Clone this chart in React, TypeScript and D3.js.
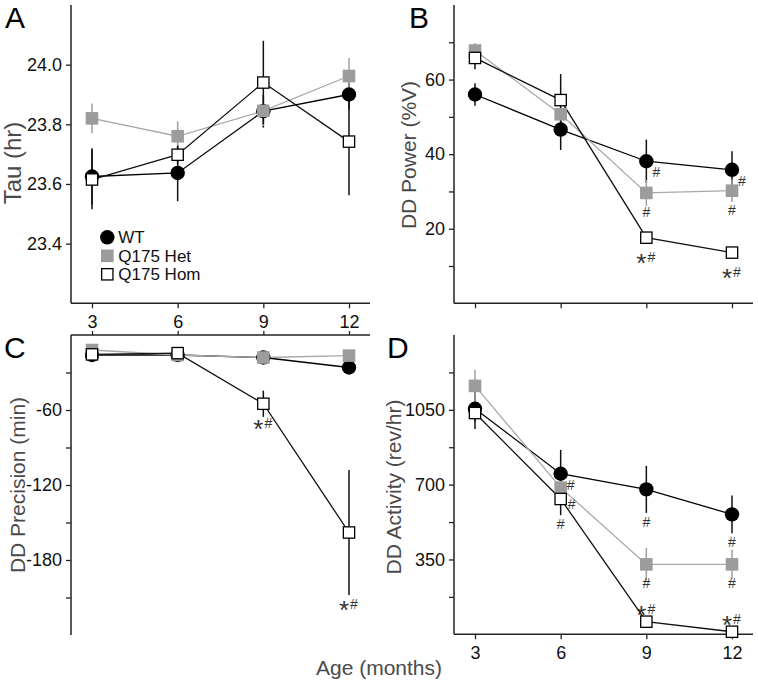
import React, { useEffect, useRef } from 'react';
import * as d3 from 'd3';

// ---------- data ----------
const months = [3, 6, 9, 12];
const groupNames = ['WT', 'Q175 Het', 'Q175 Hom'];

// Panel A: Tau (hr)
const tauWT = [23.625, 23.637, 23.844, 23.9];
const tauWTErr = [0.095, 0.095, 0.055, 0.05];
const tauHet = [23.82, 23.76, 23.845, 23.962];
const tauHetErr = [0.05, 0.05, 0.05, 0.06];
const tauHom = [23.615, 23.698, 23.94, 23.742];
const tauHomErr = [0.1, 0.03, 0.14, 0.18];
const tauDomain = [23.2, 24.2];
const tauTicks = [23.4, 23.6, 23.8, 24.0];
const tauLabels = [23.4, 23.6, 23.8, 24.0];

// Panel B: DD Power (%V)
const powWT = [56.0, 46.6, 38.1, 35.8];
const powWTErr = [3, 5.5, 5.8, 5];
const powHet = [67.8, 50.7, 29.6, 30.2];
const powHetErr = [2, 3, 3.5, 3];
const powHom = [65.8, 54.5, 17.6, 13.6];
const powHomErr = [3, 7, 1, 1];
const powDomain = [0, 80];
const powTicks = [10, 20, 30, 40, 50, 60, 70];
const powLabels = [20, 40, 60];

// Panel C: DD Precision (min)
const preWT = [-16, -16, -18, -26];
const preWTErr = [2, 2, 2, 2];
const preHet = [-12, -16, -18, -16.5];
const preHetErr = [2, 2, 2, 2];
const preHom = [-15.5, -14.5, -55, -158];
const preHomErr = [2, 2, 10.5, 50];
const preDomain = [-240, 0];
const preTicks = [-30, -60, -90, -120, -150, -180, -210];
const preLabels = [-60, -120, -180];

// Panel D: DD Activity (rev/hr)
const actWT = [1055, 751, 678, 561];
const actWTErr = [95, 112, 110, 88];
const actHet = [1162, 686, 327, 327];
const actHetErr = [75, 55, 77, 68];
const actHom = [1035, 633, 59, 12];
const actHomErr = [40, 76, 12, 8];
const actDomain = [0, 1400];
const actTicks = [175, 350, 525, 700, 875, 1050, 1225];
const actLabels = [350, 700, 1050];

// Significance marks: panel, series index, month index, text, placement
const marks = [
  { panel: 'B', s: 0, i: 2, text: '#', place: 'right' },
  { panel: 'B', s: 0, i: 3, text: '#', place: 'right' },
  { panel: 'B', s: 1, i: 2, text: '#', place: 'below' },
  { panel: 'B', s: 1, i: 3, text: '#', place: 'below' },
  { panel: 'B', s: 2, i: 2, text: '*#', place: 'below' },
  { panel: 'B', s: 2, i: 3, text: '*#', place: 'below' },
  { panel: 'C', s: 2, i: 2, text: '*#', place: 'below' },
  { panel: 'C', s: 2, i: 3, text: '*#', place: 'belowBar' },
  { panel: 'D', s: 0, i: 1, text: '#', place: 'right' },
  { panel: 'D', s: 1, i: 1, text: '#', place: 'rightLow' },
  { panel: 'D', s: 2, i: 1, text: '#', place: 'belowBar' },
  { panel: 'D', s: 0, i: 2, text: '#', place: 'belowBar' },
  { panel: 'D', s: 0, i: 3, text: '#', place: 'belowBar' },
  { panel: 'D', s: 1, i: 2, text: '#', place: 'below' },
  { panel: 'D', s: 1, i: 3, text: '#', place: 'below' },
  { panel: 'D', s: 2, i: 2, text: '*#', place: 'above' },
  { panel: 'D', s: 2, i: 3, text: '*#', place: 'above' },
];

const FONT = '"Liberation Sans", Arial, Helvetica, sans-serif';

export default function App() {
  const ref = useRef<SVGSVGElement>(null);

  useEffect(() => {
    const svg = d3.select(ref.current);
    svg.selectAll('*').remove();
    svg.attr('font-family', FONT);

    const panels = [
      {
        id: 'A', title: 'Tau (hr)', titleSize: 24, titleX: 21, titleY: 163,
        vals: [tauWT, tauHet, tauHom], errs: [tauWTErr, tauHetErr, tauHomErr],
        domain: tauDomain, ticks: tauTicks, labels: tauLabels, fmt: (d: number) => d.toFixed(1),
        left: 71, right: 370, top: 5, bottom: 303.3, xMode: 'bottomLabeled',
        letterX: 5, letterY: 28,
      },
      {
        id: 'B', title: 'DD Power (%V)', titleSize: 21, titleX: 416, titleY: 155,
        vals: [powWT, powHet, powHom], errs: [powWTErr, powHetErr, powHomErr],
        domain: powDomain, ticks: powTicks, labels: powLabels, fmt: (d: number) => String(d),
        left: 454, right: 753, top: 5, bottom: 303.3, xMode: 'bottomPlain',
        letterX: 409, letterY: 28,
      },
      {
        id: 'C', title: 'DD Precision (min)', titleSize: 21, titleX: 25, titleY: 485,
        vals: [preWT, preHet, preHom], errs: [preWTErr, preHetErr, preHomErr],
        domain: preDomain, ticks: preTicks, labels: preLabels, fmt: (d: number) => String(d),
        left: 71, right: 370, top: 335, bottom: 635, xMode: 'top',
        letterX: 4, letterY: 358,
      },
      {
        id: 'D', title: 'DD Activity (rev/hr)', titleSize: 21, titleX: 401, titleY: 487,
        vals: [actWT, actHet, actHom], errs: [actWTErr, actHetErr, actHomErr],
        domain: actDomain, ticks: actTicks, labels: actLabels, fmt: (d: number) => String(d),
        left: 454, right: 753, top: 335, bottom: 634.3, xMode: 'bottomLabeled',
        letterX: 387, letterY: 358,
      },
    ];

    const lineColors = ['#000', '#a8a8a8', '#111'];
    const errColors = ['#111', '#a0a0a0', '#111'];
    const R = 7.2;
    const SQ = 12.6;

    panels.forEach((p) => {
      const g = svg.append('g');
      const x = d3.scaleLinear().domain([3, 12]).range([p.left + 21, p.left + 278]);
      const y = d3.scaleLinear().domain(p.domain).range([p.bottom, p.top]);

      // y axis ticks
      const yAx = d3.axisLeft(y).tickValues(p.ticks).tickSize(5).tickPadding(4)
        .tickFormat((d: any) => (p.labels.includes(d) ? p.fmt(d) : ''));
      const gy = g.append('g').attr('transform', `translate(${p.left},0)`).call(yAx);
      gy.select('.domain').remove();
      gy.selectAll('line').attr('stroke', '#222').attr('stroke-width', 1.3);
      gy.selectAll('text').attr('font-size', 18).attr('fill', '#111').attr('font-family', FONT);

      // x axis
      const xAxisY = p.xMode === 'top' ? p.top : p.bottom;
      let xAx;
      if (p.xMode === 'top') {
        xAx = d3.axisTop(x).tickValues(months).tickSize(4).tickFormat(() => '');
      } else if (p.xMode === 'bottomPlain') {
        xAx = d3.axisBottom(x).tickValues(months).tickSize(5).tickFormat(() => '');
      } else {
        xAx = d3.axisBottom(x).tickValues(months).tickSize(5).tickPadding(7).tickFormat((d: any) => String(d));
      }
      const gx = g.append('g').attr('transform', `translate(0,${xAxisY})`).call(xAx);
      gx.select('.domain').remove();
      gx.selectAll('line').attr('stroke', '#222').attr('stroke-width', 1.3);
      gx.selectAll('text').attr('font-size', 18).attr('fill', '#111').attr('font-family', FONT);

      // axis lines
      g.append('line').attr('x1', p.left).attr('x2', p.right).attr('y1', xAxisY).attr('y2', xAxisY)
        .attr('stroke', '#222').attr('stroke-width', 1.5);
      g.append('line').attr('x1', p.left).attr('x2', p.left).attr('y1', p.top).attr('y2', p.bottom)
        .attr('stroke', '#222').attr('stroke-width', 1.5);

      // title
      g.append('text')
        .attr('transform', `translate(${p.titleX},${p.titleY}) rotate(-90)`)
        .attr('text-anchor', 'middle').attr('font-size', p.titleSize).attr('fill', '#4a4a4a')
        .text(p.title);

      // panel letter
      g.append('text').attr('x', p.letterX).attr('y', p.letterY).attr('font-size', 30).attr('fill', '#000')
        .text(p.id);

      // lines
      const line = d3.line<number>().x((_, i) => x(months[i])).y((d) => y(d));
      p.vals.forEach((vals, s) => {
        g.append('path').attr('d', line(vals)).attr('fill', 'none')
          .attr('stroke', lineColors[s]).attr('stroke-width', 1.3);
      });
      // error bars
      p.vals.forEach((vals, s) => {
        vals.forEach((v, i) => {
          const e = p.errs[s][i];
          g.append('line').attr('x1', x(months[i])).attr('x2', x(months[i]))
            .attr('y1', y(v - e)).attr('y2', y(v + e))
            .attr('stroke', errColors[s]).attr('stroke-width', 1.5);
        });
      });
      // markers
      p.vals.forEach((vals, s) => {
        vals.forEach((v, i) => {
          const cx = x(months[i]);
          const cy = y(v);
          if (s === 0) {
            g.append('circle').attr('cx', cx).attr('cy', cy).attr('r', R).attr('fill', '#000');
          } else if (s === 1) {
            g.append('rect').attr('x', cx - SQ / 2).attr('y', cy - SQ / 2).attr('width', SQ).attr('height', SQ)
              .attr('fill', '#9c9c9c');
          } else {
            g.append('rect').attr('x', cx - (SQ - 1.3) / 2).attr('y', cy - (SQ - 1.3) / 2)
              .attr('width', SQ - 1.3).attr('height', SQ - 1.3)
              .attr('fill', '#fff').attr('stroke', '#000').attr('stroke-width', 1.3);
          }
        });
      });

      // significance marks
      marks.filter((m) => m.panel === p.id).forEach((m) => {
        const v = p.vals[m.s][m.i];
        const e = p.errs[m.s][m.i];
        let cx = x(months[m.i]);
        let cy = y(v);
        if (m.place === 'right') { cx += 10; cy += 11; }
        else if (m.place === 'rightLow') { cx += 11; cy += 16; }
        else if (m.place === 'below') { cy += 19; }
        else if (m.place === 'above') { cy -= 13; }
        else if (m.place === 'belowBar') { cy = y(v - e) + 9; }
        if (m.text === '#') {
          g.append('text').attr('x', cx).attr('y', cy + 5).attr('text-anchor', 'middle')
            .attr('font-size', 14).attr('fill', '#333').text('#');
        } else {
          g.append('text').attr('x', cx + 5).attr('y', cy + 5).attr('text-anchor', 'middle')
            .attr('font-size', 14).attr('fill', '#333').text('#');
          g.append('text').attr('x', cx - 5).attr('y', cy + 15).attr('text-anchor', 'middle')
            .attr('font-size', 26).attr('fill', '#333').text('*');
        }
      });
    });

    // legend (panel A)
    const lg = svg.append('g');
    const legendY = [237.3, 255.8, 274.3];
    groupNames.forEach((name, s) => {
      const cx = 107.3;
      const cy = legendY[s];
      if (s === 0) {
        lg.append('circle').attr('cx', cx).attr('cy', cy).attr('r', R).attr('fill', '#000');
      } else if (s === 1) {
        lg.append('rect').attr('x', cx - SQ / 2).attr('y', cy - SQ / 2).attr('width', SQ).attr('height', SQ)
          .attr('fill', '#9c9c9c');
      } else {
        lg.append('rect').attr('x', cx - (SQ - 1.3) / 2).attr('y', cy - (SQ - 1.3) / 2)
          .attr('width', SQ - 1.3).attr('height', SQ - 1.3)
          .attr('fill', '#fff').attr('stroke', '#000').attr('stroke-width', 1.3);
      }
      lg.append('text').attr('x', 118.3).attr('y', cy + 6).attr('font-size', 17).attr('fill', '#111').text(name);
    });

    // shared x title
    svg.append('text').attr('x', 379).attr('y', 675).attr('text-anchor', 'middle')
      .attr('font-size', 21).attr('fill', '#4a4a4a').text('Age (months)');
  }, []);

  return (
    <svg
      ref={ref}
      width={758}
      height={685}
      style={{ position: 'absolute', left: 0, top: 0, background: '#fff' }}
    />
  );
}
